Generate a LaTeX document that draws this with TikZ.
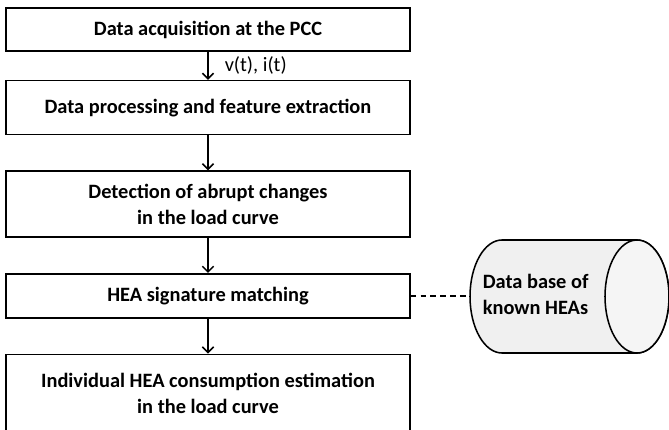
\documentclass[tikz,border=0pt]{standalone}
\usepackage{fontspec}
\setmainfont{Carlito}
\usetikzlibrary{positioning, arrows.meta}

\begin{document}
\begin{tikzpicture}[-{Straight Barb[length=4pt,width=8pt]}, auto, node distance=0.875cm, line width=1.1pt,
	step box/.style={draw, black, minimum width=10.1cm, align=center, font=\fontsize{14.5}{18.5}\selectfont\bfseries},
	data text/.style={align=left, inner sep=0pt, font=\fontsize{14.5}{18.5}\selectfont\bfseries}]
	\useasboundingbox (0,0) rectangle (16.725,-10.75);

	\node[step box, minimum height=1.075cm] (A) at (5.2,-0.74) {Data acquisition at the PCC};
	\node[step box, minimum height=1.35cm] (B) [below=0.7cm of A] {Data processing and feature extraction};
	\node[step box, minimum height=1.65cm] (C) [below=of B] {Detection of abrupt changes\\in the load curve};
	\node[step box, minimum height=1.1cm] (D) [below=of C] {HEA signature matching};
	\node[step box, minimum height=1.975cm] (E) [below=of D] {Individual HEA consumption estimation\\in the load curve};

	% data base drum
	\draw [-, fill=black!6] (12.55,-6.0) -- (15.925,-6.0) arc (90:-90:0.8 and 1.4125) -- (12.55,-8.825) arc (270:90:0.8 and 1.4125) -- cycle;
	\draw [-, fill=black!4] (15.925,-7.4125) ellipse (0.8 and 1.4125);
	\coordinate (DBw) at (11.75,-7.4125);
	\node[data text, anchor=west] (DB) at (12.05,-7.35) {Data base of\\known HEAs};

	\path (A) edge[] node[inner xsep=0.4cm, font=\fontsize{14.5}{18.5}\selectfont]{v(t), i(t)} (B);
	\path (B) edge[] node[]{} (C);
	\path (C) edge[] node[]{} (D);
	\path (D) edge[] node[]{} (E);

	\draw [-, dash pattern=on 4pt off 3pt](D.east) -- (D.east -| DBw);

\end{tikzpicture}
\end{document}
